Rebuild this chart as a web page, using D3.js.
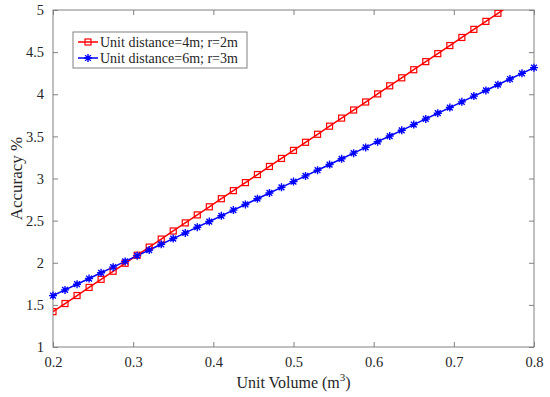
<!DOCTYPE html>
<html>
<head>
<meta charset="utf-8">
<script src="https://cdn.jsdelivr.net/npm/d3@7"></script>
<style>
body { margin: 0; background: #fff; }
text { font-family: "Liberation Serif", "Times New Roman", serif; }
</style>
</head>
<body>
<svg id="chart" width="550" height="397"></svg>
<script>
// sample positions (unit volume, m^3)
var xValues = [0.2, 0.215, 0.23, 0.245, 0.26, 0.275, 0.29, 0.305, 0.32, 0.335,
	0.35, 0.365, 0.38, 0.395, 0.41, 0.425, 0.44, 0.455, 0.47, 0.485,
	0.5, 0.515, 0.53, 0.545, 0.56, 0.575, 0.59, 0.605, 0.62, 0.635,
	0.65, 0.665, 0.68, 0.695, 0.71, 0.725, 0.74, 0.755, 0.77, 0.785, 0.8];

// accuracy %, unit distance 4m, r = 2m
var redValues = [1.420, 1.516, 1.611, 1.707, 1.803, 1.899, 1.994, 2.090, 2.186, 2.281,
	2.377, 2.473, 2.568, 2.664, 2.760, 2.856, 2.951, 3.047, 3.143, 3.238,
	3.334, 3.430, 3.525, 3.621, 3.717, 3.813, 3.908, 4.004, 4.100, 4.195,
	4.291, 4.387, 4.482, 4.578, 4.674, 4.770, 4.865, 4.961, 5.057, 5.152, 5.248];

// accuracy %, unit distance 6m, r = 3m
var blueValues = [1.610, 1.678, 1.745, 1.813, 1.881, 1.948, 2.016, 2.084, 2.151, 2.219,
	2.287, 2.354, 2.422, 2.489, 2.557, 2.625, 2.692, 2.760, 2.828, 2.895,
	2.963, 3.031, 3.098, 3.166, 3.234, 3.301, 3.369, 3.437, 3.504, 3.572,
	3.640, 3.707, 3.775, 3.842, 3.910, 3.978, 4.045, 4.113, 4.181, 4.248, 4.316];

var xTicks = [0.2, 0.3, 0.4, 0.5, 0.6, 0.7, 0.8];
var yTicks = [1, 1.5, 2, 2.5, 3, 3.5, 4, 4.5, 5];
var seriesNames = ["Unit distance=4m; r=2m", "Unit distance=6m; r=3m"];
var seriesColors = ["#ff0000", "#0000ff"];

var margin = {top: 10, right: 16, bottom: 50, left: 53};
var svg = d3.select("#chart");
var width = 550 - margin.left - margin.right;
var height = 397 - margin.top - margin.bottom;

var x = d3.scaleLinear().domain([0.2, 0.8]).range([0, width]);
var y = d3.scaleLinear().domain([1, 5]).range([height, 0]);

var g = svg.append("g").attr("transform", `translate(${margin.left},${margin.top})`);

svg.append("defs").append("clipPath").attr("id", "clip")
	.append("rect").attr("x", 0).attr("y", 0).attr("width", width).attr("height", height);

var axisColor = "#808080";
var textColor = "#262626";

function styleAxis(sel, showText) {
	sel.select(".domain").remove();
	sel.selectAll(".tick line").attr("stroke", axisColor);
	sel.selectAll(".tick text")
		.style("font-size", "14.5px")
		.attr("fill", textColor)
		.style("display", showText ? null : "none");
}

// inward ticks on all four sides
g.append("g").attr("transform", `translate(0,${height})`)
	.call(d3.axisBottom(x).tickValues(xTicks).tickSize(-5).tickPadding(10).tickFormat(d3.format("")))
	.call(s => styleAxis(s, true));
g.append("g")
	.call(d3.axisTop(x).tickValues(xTicks).tickSize(-5))
	.call(s => styleAxis(s, false));
g.append("g")
	.call(d3.axisLeft(y).tickValues(yTicks).tickSize(-5).tickPadding(9).tickFormat(d3.format("")))
	.call(s => styleAxis(s, true));
g.append("g").attr("transform", `translate(${width},0)`)
	.call(d3.axisRight(y).tickValues(yTicks).tickSize(-5))
	.call(s => styleAxis(s, false));

g.append("rect")
	.attr("width", width).attr("height", height)
	.attr("fill", "none").attr("stroke", axisColor).attr("stroke-width", 1);

// axis titles
var xt = svg.append("text")
	.attr("x", margin.left + width / 2)
	.attr("y", 388)
	.attr("text-anchor", "middle")
	.style("font-size", "16px")
	.attr("fill", textColor);
xt.append("tspan").text("Unit Volume (m");
xt.append("tspan").attr("dy", -7).style("font-size", "11px").text("3");
xt.append("tspan").attr("dy", 7).text(")");

svg.append("text")
	.attr("transform", `translate(22,${margin.top + height / 2}) rotate(-90)`)
	.attr("text-anchor", "middle")
	.style("font-size", "17px")
	.attr("fill", textColor)
	.text("Accuracy %");

var line = d3.line().x(d => x(d[0])).y(d => y(d[1]));

var redData = xValues.map((v, i) => [v, redValues[i]]);
var blueData = xValues.map((v, i) => [v, blueValues[i]]);

var plot = g.append("g").attr("clip-path", "url(#clip)");

function squareMark(sel, color) {
	sel.append("rect")
		.attr("x", -3).attr("y", -3).attr("width", 6).attr("height", 6)
		.attr("fill", "none").attr("stroke", color).attr("stroke-width", 1.2);
}

function starMark(sel, color) {
	var r = 4;
	sel.append("path")
		.attr("d", `M${-r},0L${r},0M0,${-r}L0,${r}M${-r * 0.72},${-r * 0.72}L${r * 0.72},${r * 0.72}M${-r * 0.72},${r * 0.72}L${r * 0.72},${-r * 0.72}`)
		.attr("stroke", color).attr("stroke-width", 1.4).attr("fill", "none");
}

plot.append("path").datum(redData)
	.attr("d", line).attr("fill", "none")
	.attr("stroke", seriesColors[0]).attr("stroke-width", 1.5);
plot.append("path").datum(blueData)
	.attr("d", line).attr("fill", "none")
	.attr("stroke", seriesColors[1]).attr("stroke-width", 1.5);

plot.selectAll(".red-mark")
	.data(redData.filter(d => d[1] <= 5))
	.enter().append("g")
	.attr("class", "red-mark")
	.attr("transform", d => `translate(${x(d[0])},${y(d[1])})`)
	.each(function () { squareMark(d3.select(this), seriesColors[0]); });

g.selectAll(".blue-mark")
	.data(blueData)
	.enter().append("g")
	.attr("class", "blue-mark")
	.attr("transform", d => `translate(${x(d[0])},${y(d[1])})`)
	.each(function () { starMark(d3.select(this), seriesColors[1]); });

// legend
var legend = svg.append("g").attr("transform", "translate(73,32)");
legend.append("rect")
	.attr("width", 174).attr("height", 36)
	.attr("fill", "#fff").attr("stroke", axisColor).attr("stroke-width", 1);

seriesNames.forEach(function (name, i) {
	var row = legend.append("g").attr("transform", `translate(0,${10 + i * 16})`);
	row.append("line")
		.attr("x1", 5).attr("x2", 25).attr("y1", 0).attr("y2", 0)
		.attr("stroke", seriesColors[i]).attr("stroke-width", 1.5);
	var m = row.append("g").attr("transform", "translate(15,0)");
	if (i === 0) squareMark(m, seriesColors[i]);
	else starMark(m, seriesColors[i]);
	row.append("text")
		.attr("x", 27).attr("y", 5)
		.style("font-size", "14px")
		.attr("fill", textColor)
		.text(name);
});
</script>
</body>
</html>
